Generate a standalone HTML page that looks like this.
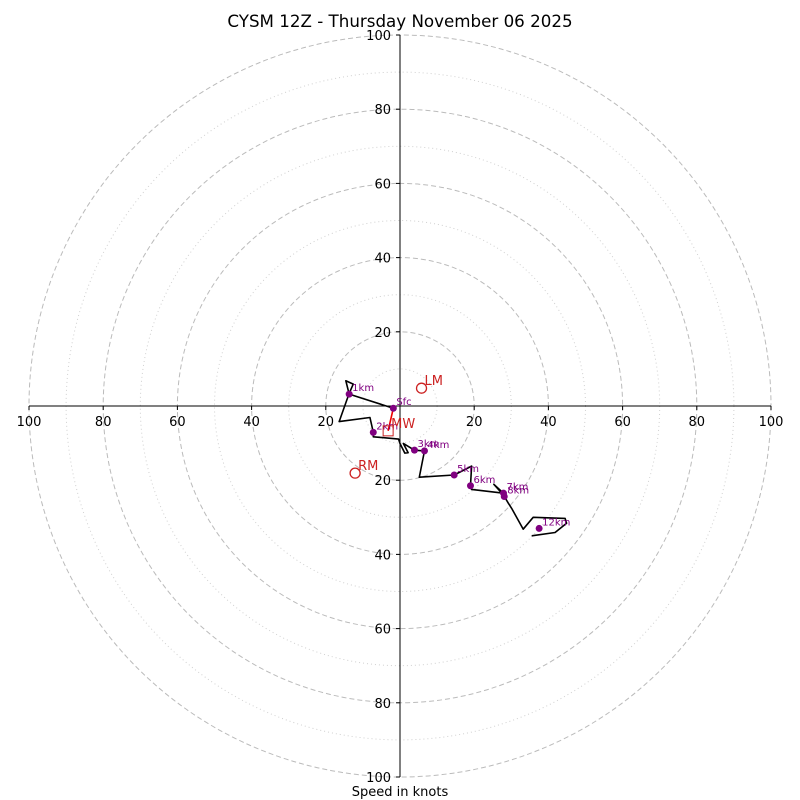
<!DOCTYPE html>
<html><head><meta charset="utf-8"><style>
html,body{margin:0;padding:0;background:#fff}
svg{display:block;font-family:"DejaVu Sans","Liberation Sans",sans-serif}
</style></head><body>
<svg id="chart" width="800" height="800" viewBox="0 0 800 800" xmlns="http://www.w3.org/2000/svg">
<rect width="800" height="800" fill="#fff"/>
<text x="400" y="27" text-anchor="middle" font-size="16.7">CYSM 12Z - Thursday November 06 2025</text>
<text x="400" y="796" text-anchor="middle" font-size="13">Speed in knots</text>
<g id="rings"></g><g id="axes"></g><g id="series"></g>
</svg>
<script>
const ringMajor=[20,40,60,80,100];
const ringMinor=[10,30,50,70,90];
const tickLabels=["100","80","60","40","20","","20","40","60","80","100"];
const tickValues=[-100,-80,-60,-40,-20,0,20,40,60,80,100];
const windU=[-1.8,-13.7,-14.6,-12.6,-13.7,-16.4,-8.1,-7.2,-7.2,-0.4,0,1.3,2.2,0.9,3.9,6.6,5.2,14.6,19.3,19.0,19.3,27.9,25.3,27.9,29.2,30.1,33.2,35.9,44.5,44.9,41.8,35.5];
const windV=[-0.6,3.2,6.8,5.9,3.4,-4.2,-3.1,-7.1,-8.3,-8.9,-10.1,-12.7,-12.6,-10.1,-11.9,-12.1,-19.2,-18.6,-16.2,-21.5,-22.5,-23.5,-21.1,-24.0,-26.2,-27.6,-33.2,-30,-30.3,-31.6,-34.1,-35];
const levelNames=["Sfc","1km","2km","3km","4km","5km","6km","7km","8km","12km"];
const levelU=[-1.8,-13.7,-7.2,3.9,6.6,14.6,19.0,27.9,28.1,37.5];
const levelV=[-0.6,3.2,-7.1,-11.9,-12.1,-18.6,-21.5,-23.5,-24.4,-33];
const motionNames=["LM","RM","MW"];
const motionU=[5.8,-12.1,-3.2];
const motionV=[4.8,-18.1,-6.7];
const CX=400,CY=406,K=3.71;
const sx=u=>CX+u*K, sy=v=>CY-v*K;
const NS="http://www.w3.org/2000/svg";
function mk(tag,attrs,parent,txt){const e=document.createElementNS(NS,tag);for(const k in attrs)e.setAttribute(k,attrs[k]);if(txt!==undefined)e.textContent=txt;parent.appendChild(e);return e;}
const rings=document.getElementById('rings'),axes=document.getElementById('axes'),series=document.getElementById('series');
ringMinor.forEach(r=>{const c=mk('circle',{cx:CX,cy:CY,r:r*K,fill:'none',stroke:'#d0d0d0','stroke-width':1,'stroke-dasharray':'1,3'},rings);

});
ringMajor.forEach(r=>{const c=mk('circle',{cx:CX,cy:CY,r:r*K,fill:'none',stroke:'#bbb','stroke-width':1,'stroke-dasharray':'5,3'},rings);

});
const xa=mk('line',{x1:sx(-100),y1:CY,x2:sx(100),y2:CY,stroke:'#000','stroke-width':1},axes);


const ya=mk('line',{x1:CX,y1:sy(100),x2:CX,y2:sy(-100),stroke:'#000','stroke-width':1},axes);


tickValues.forEach((t,i)=>{if(!tickLabels[i])return;
 mk('line',{x1:sx(t),y1:CY,x2:sx(t),y2:CY+4,stroke:'#000'},axes);
 const tx=mk('text',{x:sx(t),y:CY+20,'text-anchor':'middle','font-size':13},axes,tickLabels[i]);
 
 
 mk('line',{x1:CX-4,y1:sy(t),x2:CX,y2:sy(t),stroke:'#000'},axes);
 const ty=mk('text',{x:CX-9,y:sy(-t)+5,'text-anchor':'end','font-size':13},axes,tickLabels[i]);
 
 
});
const pts=windU.map((u,i)=>sx(u)+','+sy(windV[i])).join(' ');
const hl=mk('polyline',{points:pts,fill:'none',stroke:'#000','stroke-width':1.6,'stroke-linejoin':'round'},series);


const mw=mk('line',{x1:sx(levelU[0]),y1:sy(levelV[0]),x2:sx(motionU[2]),y2:sy(motionV[2]),stroke:'#e00','stroke-width':1.6},series);


levelNames.forEach((n,i)=>{const x=sx(levelU[i]),y=sy(levelV[i]);
 const d=mk('circle',{cx:x,cy:y,r:3.5,fill:'#800080'},series);
 
 
 const t=mk('text',{x:x+3,y:y-3,'font-size':10,fill:'#800080'},series,n);
 
 
});
motionNames.forEach((n,i)=>{const x=sx(motionU[i]),y=sy(motionV[i]);
 let m;
 if(n==='MW'){m=mk('rect',{x:x-5,y:y-5,width:10,height:10,fill:'none',stroke:'#c22','stroke-width':1},series);}
 else{m=mk('circle',{cx:x,cy:y,r:5,fill:'none',stroke:'#c22','stroke-width':1.3},series);}
 
 
 const t=mk('text',{x:x+3,y:y-3,'font-size':13,fill:'#c22'},series,n);
 
 
});
</script>
</body></html>
